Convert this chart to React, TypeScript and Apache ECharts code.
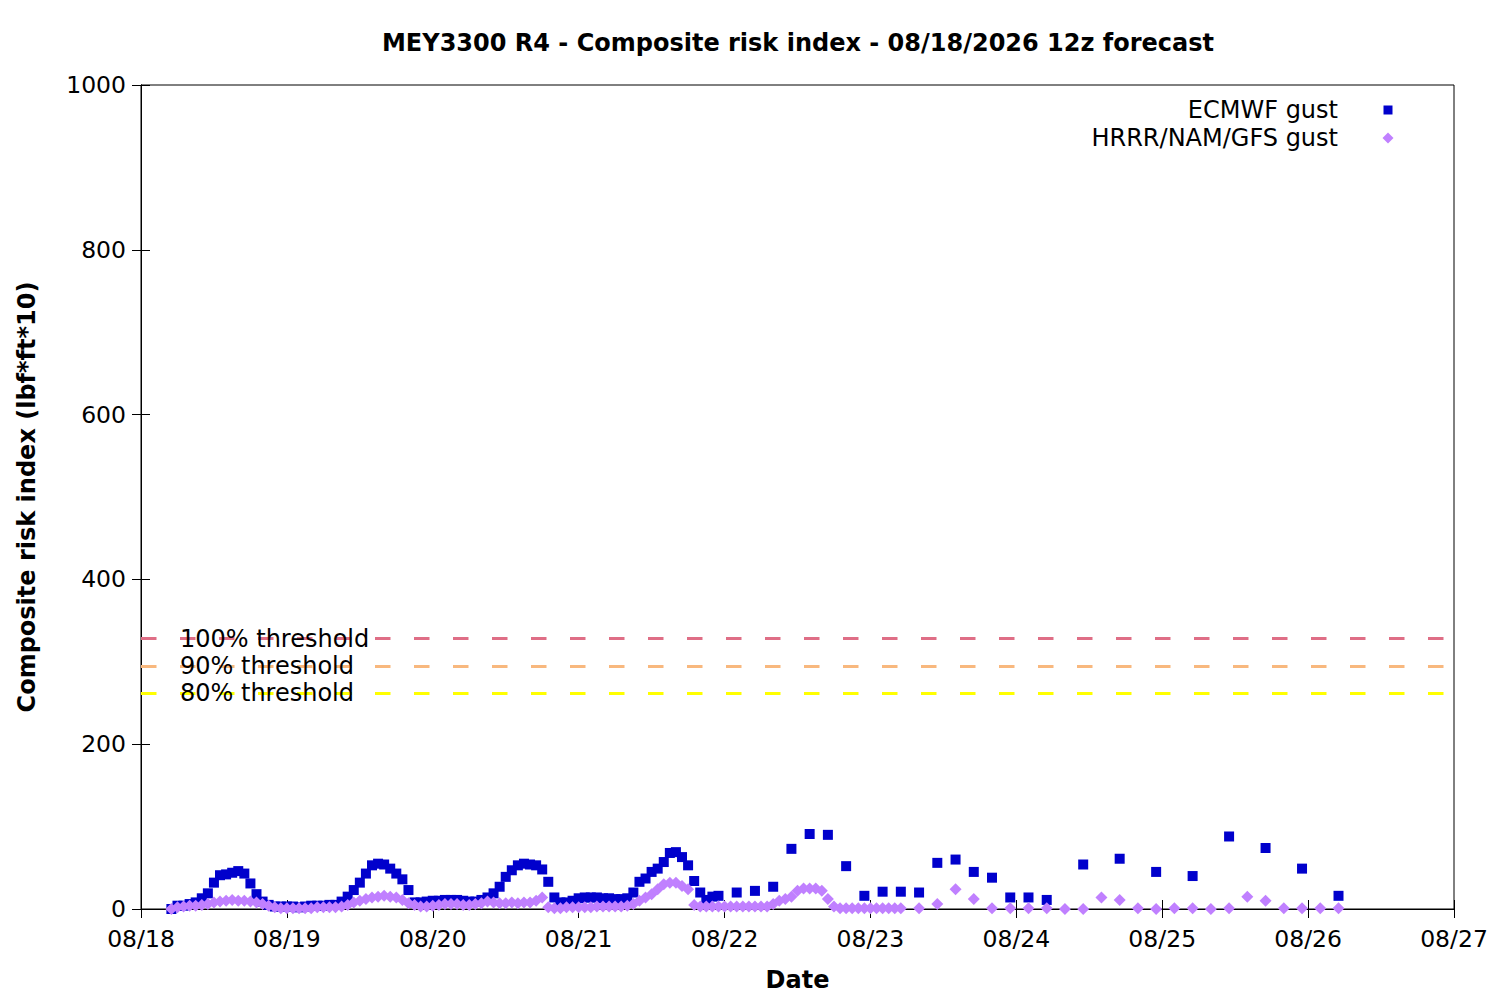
import React, { useEffect, useRef } from "react";
import * as echarts from "echarts";

// Tick labels: one per day, x axis is "hours since 08/18 00:00"
const dayLabels = ["08/18", "08/19", "08/20", "08/21", "08/22", "08/23", "08/24", "08/25", "08/26", "08/27"];

// ECMWF gust: valid times (hours since 08/18 00:00) and index values
const ecmwfHours = [
  5, 6, 7, 8, 9, 10, 11, 12, 13, 14, 15, 16, 17, 18, 19, 20, 21, 22, 23,
  24, 25, 26, 27, 28, 29, 30, 31, 32, 33, 34, 35, 36, 37, 38, 39, 40, 41, 42, 43, 44, 45, 46, 47,
  48, 49, 50, 51, 52, 53, 54, 55, 56, 57, 58, 59, 60, 61, 62, 63, 64, 65, 66, 67, 68, 69, 70, 71,
  72, 73, 74, 75, 76, 77, 78, 79, 80, 81, 82, 83, 84, 85, 86, 87, 88, 89, 90, 91, 92, 93, 94, 95,
  98, 101, 104, 107, 110, 113, 116, 119, 122, 125, 128, 131, 134, 137, 140, 143, 146, 149,
  155, 161, 167, 173, 179, 185, 191, 197,
];
const ecmwfValues = [
  0, 4, 4, 6, 8, 13, 19, 32, 41, 42, 44, 46, 43, 31, 18, 9, 5, 3, 3,
  3, 3, 2, 3, 4, 4, 4, 5, 5, 9, 15, 23, 32, 43, 53, 55, 54, 49, 43, 36, 23, 8, 8, 9,
  10, 10, 11, 11, 11, 10, 9, 9, 11, 14, 19, 27, 39, 47, 53, 55, 54, 53, 48, 33, 14, 8, 8, 10,
  13, 14, 14, 14, 13, 13, 12, 12, 13, 20, 33, 37, 45, 49, 57, 68, 69, 63, 53, 34, 20, 11, 15, 16,
  20, 22, 27, 73, 91, 90, 52, 16, 21, 21, 20, 56, 60, 45, 38, 14, 14, 11,
  54, 61, 45, 40, 88, 74, 49, 16,
];

// HRRR/NAM/GFS gust
const hrrrHours = [
  5, 6, 7, 8, 9, 10, 11, 12, 13, 14, 15, 16, 17, 18, 19, 20, 21, 22, 23,
  24, 25, 26, 27, 28, 29, 30, 31, 32, 33, 34, 35, 36, 37, 38, 39, 40, 41, 42, 43, 44, 45, 46, 47,
  48, 49, 50, 51, 52, 53, 54, 55, 56, 57, 58, 59, 60, 61, 62, 63, 64, 65, 66, 67, 68, 69, 70, 71,
  72, 73, 74, 75, 76, 77, 78, 79, 80, 81, 82, 83, 84, 85, 86, 87, 88, 89, 90, 91, 92, 93, 94, 95,
  96, 97, 98, 99, 100, 101, 102, 103, 104, 105, 106, 107, 108, 109, 110, 111, 112, 113, 114, 115, 116, 117, 118, 119,
  120, 121, 122, 123, 124, 125,
  128, 131, 134, 137, 140, 143, 146, 149, 152, 155, 158, 161, 164, 167, 170, 173, 176, 179, 182, 185, 188, 191, 194, 197,
];
const hrrrValues = [
  0, 2, 3, 4, 4, 5, 6, 8, 9, 10, 11, 10, 10, 9, 8, 6, 4, 2, 1,
  1, 1, 1, 1, 1, 2, 2, 2, 2, 3, 5, 8, 10, 12, 14, 15, 16, 15, 14, 11, 7, 5, 3, 3,
  4, 5, 6, 6, 6, 5, 5, 6, 7, 9, 8, 7, 7, 8, 7, 8, 8, 10, 14, 2, 1, 1, 2, 2,
  2, 2, 2, 3, 3, 3, 3, 3, 4, 6, 10, 14, 18, 24, 30, 32, 32, 28, 24, 5, 3, 3, 3, 3,
  3, 3, 3, 3, 3, 3, 3, 3, 6, 10, 12, 15, 22, 25, 25, 25, 22, 12, 3, 1, 1, 1, 1, 1,
  1, 1, 1, 1, 1, 1,
  1, 6, 24, 12, 1, 1, 1, 1, 0, 0, 14, 11, 1, 0, 1, 1, 0, 1, 15, 10, 1, 1, 1, 1,
];

const thresholdNames = ["100% threshold", "90% threshold", "80% threshold"];
const thresholdValues = [328, 295, 262];
const thresholdColors = ["#df6e86", "#f8b87e", "#ffff00"];

const seriesNames = ["ECMWF gust", "HRRR/NAM/GFS gust"];
const seriesColors = ["#0000cc", "#c080ff"];

const FONT = "DejaVu Sans";
const FS = 24;
const TICK_FS = 23.5;

export default function App() {
  const ref = useRef<HTMLDivElement>(null);

  useEffect(() => {
    if (!ref.current) return;
    const chart = echarts.init(ref.current, undefined, { renderer: "svg" });

    const tickCommon = { show: true, inside: true, length: 9, lineStyle: { color: "#000", width: 1 } };
    const lineCommon = { show: true, lineStyle: { color: "#000", width: 1 } };

    const option: any = {
      animation: false,
      backgroundColor: "#fff",
      textStyle: { fontFamily: FONT },
      title: {
        text: "MEY3300 R4 - Composite risk index - 08/18/2026 12z forecast",
        left: 793,
        top: 26,
        textAlign: "center",
        textStyle: { fontFamily: FONT, fontSize: FS, fontWeight: "bold", color: "#000" },
      },
      grid: {
        left: 141,
        right: 46,
        top: 85,
        bottom: 91,
        show: true,
        borderColor: "#000",
        borderWidth: 1,
        backgroundColor: "transparent",
      },
      xAxis: [
        {
          type: "value",
          min: 0,
          max: dayLabels.length * 24 - 24,
          interval: 24,
          position: "bottom",
          axisLine: lineCommon,
          axisTick: tickCommon,
          splitLine: { show: false },
          axisLabel: {
            formatter: (v: number) => dayLabels[Math.round(v / 24)] ?? "",
            fontFamily: FONT,
            fontSize: TICK_FS,
            color: "#000",
            margin: 18,
          },
          name: "Date",
          nameLocation: "middle",
          nameGap: 59,
          nameTextStyle: { fontFamily: FONT, fontSize: FS, fontWeight: "bold", color: "#000" },
        },
        {
          type: "value",
          min: 0,
          max: dayLabels.length * 24 - 24,
          interval: 24,
          position: "top",
          axisLine: lineCommon,
          axisTick: tickCommon,
          splitLine: { show: false },
          axisLabel: { show: false },
        },
      ],
      yAxis: [
        {
          type: "value",
          min: 0,
          max: 1000,
          interval: 200,
          position: "left",
          axisLine: lineCommon,
          axisTick: tickCommon,
          splitLine: { show: false },
          axisLabel: {
            formatter: (v: number) => String(v),
            fontFamily: FONT,
            fontSize: TICK_FS,
            color: "#000",
            margin: 15,
          },
          name: "Composite risk index (lbf*ft*10)",
          nameLocation: "middle",
          nameGap: 102,
          nameRotate: 90,
          nameTextStyle: { fontFamily: FONT, fontSize: FS, fontWeight: "bold", color: "#000" },
        },
        {
          type: "value",
          min: 0,
          max: 1000,
          interval: 200,
          position: "right",
          axisLine: lineCommon,
          axisTick: tickCommon,
          splitLine: { show: false },
          axisLabel: { show: false },
        },
      ],
      series: [
        {
          name: seriesNames[0],
          type: "scatter",
          xAxisIndex: 0,
          yAxisIndex: 0,
          symbol: "rect",
          symbolSize: 10,
          itemStyle: { color: seriesColors[0], opacity: 1 },
          data: ecmwfHours.map((h, i) => [h, ecmwfValues[i]]),
          z: 3,
          markLine: {
            silent: true,
            symbol: "none",
            animation: false,
            data: thresholdValues.map((v, i) => ({
              yAxis: v,
              lineStyle: { color: thresholdColors[i], type: [15.5, 23.5], width: 3, opacity: 1 },
              label: {
                show: true,
                formatter: thresholdNames[i],
                position: "insideStart",
                distance: [39, 0],
                color: "#000",
                fontFamily: FONT,
                fontSize: FS,
              },
            })),
          },
        },
        {
          name: seriesNames[1],
          type: "scatter",
          xAxisIndex: 0,
          yAxisIndex: 0,
          symbol: "diamond",
          symbolSize: [12, 12],
          itemStyle: { color: seriesColors[1], opacity: 1 },
          data: hrrrHours.map((h, i) => [h, hrrrValues[i]]),
          z: 4,
        },
      ],
      graphic: [
        {
          type: "text",
          x: 1338,
          y: 110,
          style: {
            text: seriesNames[0],
            fill: "#000",
            fontFamily: FONT,
            fontSize: FS,
            align: "right",
            verticalAlign: "middle",
          },
        },
        {
          type: "rect",
          shape: { x: 1383.5, y: 105.5, width: 9, height: 9 },
          style: { fill: seriesColors[0] },
        },
        {
          type: "text",
          x: 1338,
          y: 138,
          style: {
            text: seriesNames[1],
            fill: "#000",
            fontFamily: FONT,
            fontSize: FS,
            align: "right",
            verticalAlign: "middle",
          },
        },
        {
          type: "polygon",
          shape: { points: [[1388, 132.5], [1393.5, 138], [1388, 143.5], [1382.5, 138]] },
          style: { fill: seriesColors[1] },
        },
      ],
    };

    chart.setOption(option);
    return () => chart.dispose();
  }, []);

  return (
    <div
      ref={ref}
      style={{ position: "fixed", left: 0, top: 0, width: 1500, height: 1000, background: "#fff" }}
    />
  );
}
